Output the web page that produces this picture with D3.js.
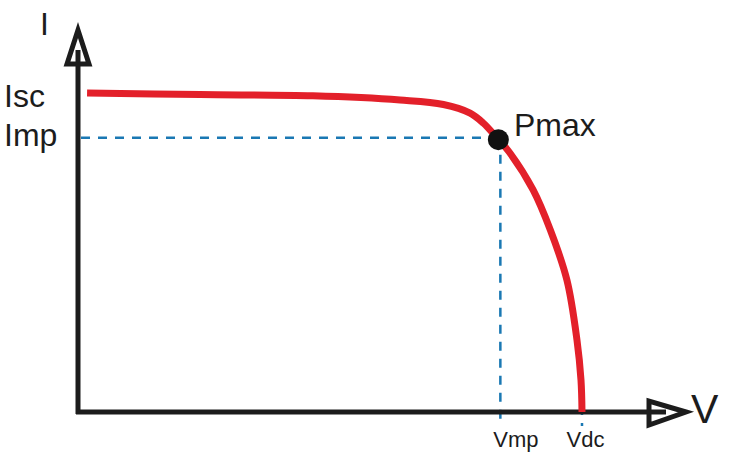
<!DOCTYPE html>
<html>
<head>
<meta charset="utf-8">
<script src="https://cdn.jsdelivr.net/npm/d3@7"></script>
<style>
  html, body { margin: 0; padding: 0; background: #fff; }
  svg { display: block; font-family: "Liberation Sans", Arial, sans-serif; }
</style>
</head>
<body>
<svg id="chart" width="736" height="453"></svg>
<script>
// ---- data (normalized units: Vdc = 100, Isc = 100) ----
const curveV = [1.8, 24.2, 46.6, 63.9, 72.5, 77.8, 80.4, 83.1, 85.7, 90.3, 93.7, 97.0, 99.0, 99.8, 100];
const curveI = [100, 99.5, 99.1, 97.8, 96.4, 93.7, 90.6, 86.0, 81.2, 69.6, 57.1, 41.4, 22.6, 10.0, 0];
const Isc = 100, Imp = 86.0, Vmp = 83.8, Vdc = 100;
const yTickValues = [Isc, Imp];
const yTickLabels = ["Isc", "Imp"];
const xTickValues = [Vmp, Vdc];
const xTickLabels = ["Vmp", "Vdc"];
const pointLabel = "Pmax";
const xAxisLabel = "V", yAxisLabel = "I";

const svg = d3.select("#chart");
const x0 = 78, y0 = 412;
const x = d3.scaleLinear().domain([0, 100]).range([x0, 582]);
const y = d3.scaleLinear().domain([0, 100]).range([y0, 93]);

const blue = "#1a78b3", red = "#e3202a", ink = "#1c1c1c";

// dashed guide lines
svg.append("line")
  .attr("x1", x0 + 3).attr("x2", x(Vmp)).attr("y1", y(Imp)).attr("y2", y(Imp))
  .attr("stroke", blue).attr("stroke-width", 2.5).attr("stroke-dasharray", "9,8");
xTickValues.forEach(v => {
  svg.append("line")
    .attr("x1", x(v)).attr("x2", x(v))
    .attr("y1", v === Vmp ? y(Imp) : y(0) - 6).attr("y2", y0 + 14)
    .attr("stroke", blue).attr("stroke-width", 2.5).attr("stroke-dasharray", "9,8");
});

// axes lines
svg.append("line").attr("x1", x0).attr("x2", x0).attr("y1", y0 + 2).attr("y2", 50)
  .attr("stroke", ink).attr("stroke-width", 5);
svg.append("line").attr("x1", x0 - 2).attr("x2", 665).attr("y1", y0).attr("y2", y0)
  .attr("stroke", ink).attr("stroke-width", 5);
// open arrow heads
svg.append("path").attr("d", `M${x0},30 L${x0 - 11},64 L${x0 + 11},64 Z`)
  .attr("fill", "#fff").attr("stroke", ink).attr("stroke-width", 5).attr("stroke-linejoin", "miter");
svg.append("line").attr("x1", x0).attr("x2", x0).attr("y1", 64).attr("y2", 50)
  .attr("stroke", ink).attr("stroke-width", 5);
svg.append("path").attr("d", `M686,${y0} L649,${y0 - 11} L649,${y0 + 13} Z`)
  .attr("fill", "#fff").attr("stroke", ink).attr("stroke-width", 5).attr("stroke-linejoin", "miter");
svg.append("line").attr("x1", 649).attr("x2", 666).attr("y1", y0).attr("y2", y0)
  .attr("stroke", ink).attr("stroke-width", 5);

// I-V curve
const pts = curveV.map((v, i) => [v, curveI[i]]);
svg.append("path").datum(pts)
  .attr("d", d3.line().x(d => x(d[0])).y(d => y(d[1])).curve(d3.curveCatmullRom.alpha(0.5)))
  .attr("fill", "none").attr("stroke", red).attr("stroke-width", 7);

// Pmax point
svg.append("circle").attr("cx", x(Vmp) - 2).attr("cy", y(Imp) + 2).attr("r", 10.5).attr("fill", "#111");
svg.append("text").attr("x", 514).attr("y", 136).attr("font-size", 32).attr("fill", ink).text(pointLabel);

// y tick labels
const yAxis = d3.axisLeft(y).tickValues(yTickValues).tickSize(0)
  .tickFormat((d, i) => yTickLabels[i]);
const gy = svg.append("g").attr("transform", `translate(4,0)`).call(yAxis);
gy.select(".domain").remove();
gy.selectAll("text").attr("text-anchor", "start").attr("x", 0)
  .attr("dy", null).attr("y", (d, i) => i === 0 ? 13 : 8)
  .attr("font-size", 32).attr("font-family", "Liberation Sans, Arial, sans-serif").attr("fill", ink);

// x tick labels
const xAxis = d3.axisBottom(x).tickValues(xTickValues).tickSize(0)
  .tickFormat((d, i) => xTickLabels[i]);
const gx = svg.append("g").attr("transform", `translate(0,${y0})`).call(xAxis);
gx.select(".domain").remove();
gx.selectAll("text").attr("dy", null).attr("y", 35).attr("x", 15)
  .attr("font-size", 22).attr("font-family", "Liberation Sans, Arial, sans-serif").attr("fill", ink);
gx.selectAll(".tick").filter((d, i) => i === 1).select("text").attr("x", 3);

// axis titles
svg.append("text").attr("x", 40).attr("y", 35).attr("font-size", 32).attr("fill", ink).text(yAxisLabel);
svg.append("text").attr("x", 691).attr("y", 423).attr("font-size", 41).attr("fill", ink).text(xAxisLabel);
</script>
</body>
</html>
